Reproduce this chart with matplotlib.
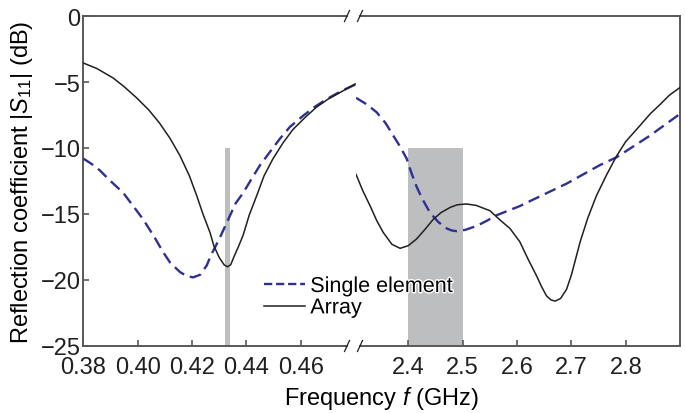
import matplotlib.pyplot as plt
import matplotlib.patheffects as pe

plt.rcParams['font.family'] = ['Liberation Sans', 'DejaVu Sans']
plt.rcParams['mathtext.fontset'] = 'custom'
plt.rcParams['mathtext.rm'] = 'Liberation Sans'
plt.rcParams['mathtext.it'] = 'Liberation Sans:italic'

# low band (GHz) - array / single element
f_low_arr = [0.380, 0.385, 0.391, 0.395, 0.3996, 0.404, 0.408, 0.412, 0.4156, 0.419, 0.4217,
             0.424, 0.4266, 0.428, 0.430, 0.4318, 0.433, 0.4342, 0.4355, 0.437, 0.4388,
             0.441, 0.4438, 0.4465, 0.4498, 0.4535, 0.4571, 0.4615, 0.4658, 0.470, 0.4744, 0.480]
s_low_arr = [-3.56, -3.98, -4.7, -5.35, -6.2, -7.1, -8.1, -9.3, -10.6, -12.1, -13.6,
             -15.0, -16.4, -17.4, -18.3, -18.85, -19.0, -18.85, -18.2, -17.5, -16.6,
             -15.1, -13.6, -12.1, -10.8, -9.6, -8.6, -7.7, -6.9, -6.3, -5.8, -5.15]
f_low_sgl = [0.380, 0.383, 0.3861, 0.390, 0.3947, 0.398, 0.402, 0.406, 0.4094, 0.412, 0.4156,
             0.418, 0.4204, 0.423, 0.4254, 0.427, 0.430, 0.432, 0.434, 0.436, 0.4388,
             0.442, 0.445, 0.449, 0.4523, 0.456, 0.4609, 0.465, 0.4695, 0.473, 0.4768, 0.480]
s_low_sgl = [-10.8, -11.2, -11.7, -12.5, -13.4, -14.3, -15.4, -16.7, -17.9, -18.7, -19.4,
             -19.7, -19.8, -19.6, -18.9, -18.1, -16.9, -16.0, -15.1, -14.2, -13.4,
             -12.3, -11.3, -10.2, -9.3, -8.4, -7.55, -6.9, -6.3, -5.9, -5.5, -5.2]

# high band (GHz)
f_high_arr = [2.304, 2.316, 2.33, 2.342, 2.354, 2.37, 2.385, 2.40, 2.415, 2.43, 2.446, 2.46,
              2.477, 2.49, 2.507, 2.525, 2.55, 2.57, 2.587, 2.605, 2.62, 2.636, 2.645, 2.654,
              2.662, 2.670, 2.68, 2.691, 2.70, 2.716, 2.73, 2.746, 2.765, 2.783, 2.80, 2.826,
              2.845, 2.863, 2.88, 2.9]
s_high_arr = [-12.0, -13.2, -14.4, -15.5, -16.4, -17.3, -17.6, -17.4, -16.9, -16.2, -15.4, -14.9,
              -14.5, -14.3, -14.24, -14.35, -14.75, -15.5, -16.1, -17.1, -18.4, -19.7, -20.5, -21.2,
              -21.5, -21.6, -21.4, -20.7, -19.6, -17.1, -15.3, -13.6, -12.0, -10.6, -9.5, -8.3,
              -7.4, -6.7, -6.0, -5.4]
f_high_sgl = [2.304, 2.32, 2.33, 2.342, 2.358, 2.373, 2.385, 2.397, 2.405, 2.415, 2.425, 2.44,
              2.455, 2.471, 2.48, 2.489, 2.505, 2.526, 2.545, 2.562, 2.605, 2.63, 2.691, 2.752,
              2.783, 2.844, 2.9]
s_high_sgl = [-6.2, -6.6, -6.9, -7.3, -8.1, -9.1, -9.9, -10.8, -11.8, -12.9, -13.8, -14.9,
              -15.6, -16.1, -16.25, -16.3, -16.2, -15.9, -15.5, -15.1, -14.4, -13.9, -12.7, -11.3,
              -10.7, -9.07, -7.4]

# shaded bands (start, end) and their top level
band_low = (0.4322, 0.4338)
band_high = (2.40, 2.50)
band_top = -10

xt_low = [0.38, 0.40, 0.42, 0.44, 0.46]
xt_high = [2.4, 2.5, 2.6, 2.7, 2.8]
yt = [0, -5, -10, -15, -20, -25]

blue = '#2e3192'
black = '#231f20'
grey = '#bcbec0'
spc = '#58595b'
fs = 17

W, H = 686, 414
fig = plt.figure(figsize=(W / 100, H / 100), dpi=100)
x0, xm, x1 = 83.3, 356, 680
yb, yt_px = 347, 17
b = (H - yb) / H
h = (yb - yt_px) / H
ax1 = fig.add_axes([x0 / W, b, (xm - x0) / W, h])
ax2 = fig.add_axes([xm / W, b, (x1 - xm) / W, h])

ax1.set_xlim(0.38, 0.4803)
ax2.set_xlim(2.3039, 2.8995)
for ax in (ax1, ax2):
    ax.set_ylim(-25, 0)
    ax.set_facecolor('none')
    for s in ax.spines.values():
        s.set_color(spc)
        s.set_linewidth(1.4)
    ax.tick_params(direction='in', length=4, width=1.2, color=spc, labelsize=fs,
                   labelcolor='#231f20')
    ax.tick_params(axis='x', pad=7)
    ax.tick_params(axis='y', pad=2)

ax1.spines['right'].set_visible(False)
ax2.spines['left'].set_visible(False)
ax1.spines['top'].set_bounds(0.38, 0.4770)
ax1.spines['bottom'].set_bounds(0.38, 0.4770)
ax2.spines['top'].set_bounds(2.3105, 2.8995)
ax2.spines['bottom'].set_bounds(2.3105, 2.8995)

ax1.set_xticks(xt_low)
ax1.set_xticklabels(['%.2f' % v for v in xt_low])
ax1.set_yticks(yt)
ax2.set_xticks(xt_high)
ax2.set_xticklabels(['%.1f' % v for v in xt_high])
ax2.set_yticks([])

ax1.fill_between(band_low, -25, band_top, color=grey, lw=0, zorder=1)
ax2.fill_between(band_high, -25, band_top, color=grey, lw=0, zorder=1)

dash = (5, 2.6)
ax1.plot(f_low_sgl, s_low_sgl, color=blue, lw=1.7, dashes=dash, zorder=3)
ax1.plot(f_low_arr, s_low_arr, color=black, lw=1.1, zorder=4)
ax2.plot(f_high_sgl, s_high_sgl, color=blue, lw=1.7, dashes=dash, zorder=3)
ax2.plot(f_high_arr, s_high_arr, color=black, lw=1.1, zorder=4)

# break marks on the x axis
for px in (347, 360):
    for py in (yt_px, yb):
        fig.add_artist(plt.Line2D([(px - 2.5) / W, (px + 2.5) / W],
                                  [(H - py - 5.5) / H, (H - py + 5.5) / H],
                                  color=black, lw=0.9))

ax1.set_ylabel(r'Reflection coefficient |$S_{\rm 11}$| (dB)', fontsize=fs, labelpad=4)
fig.text((x0 + x1) / 2 / W, 0.005, r'Frequency $f$ (GHz)', fontsize=fs,
         ha='center', va='bottom')

h1, = ax1.plot([], [], color=blue, lw=1.7, dashes=(3.5, 1.6))
h2, = ax1.plot([], [], color=black, lw=1.1)
leg = fig.legend([h1, h2], ['Single element', 'Array'], loc='upper left',
                 bbox_to_anchor=(264 / W, (H - 277) / H), frameon=False, fontsize=fs - 1.5,
                 handlelength=1.9, handletextpad=0.25, labelspacing=0.02, borderpad=0,
                 borderaxespad=0)
for t in leg.get_texts():
    t.set_path_effects([pe.withStroke(linewidth=2, foreground='white')])

fig.savefig('out.png', dpi=100)
